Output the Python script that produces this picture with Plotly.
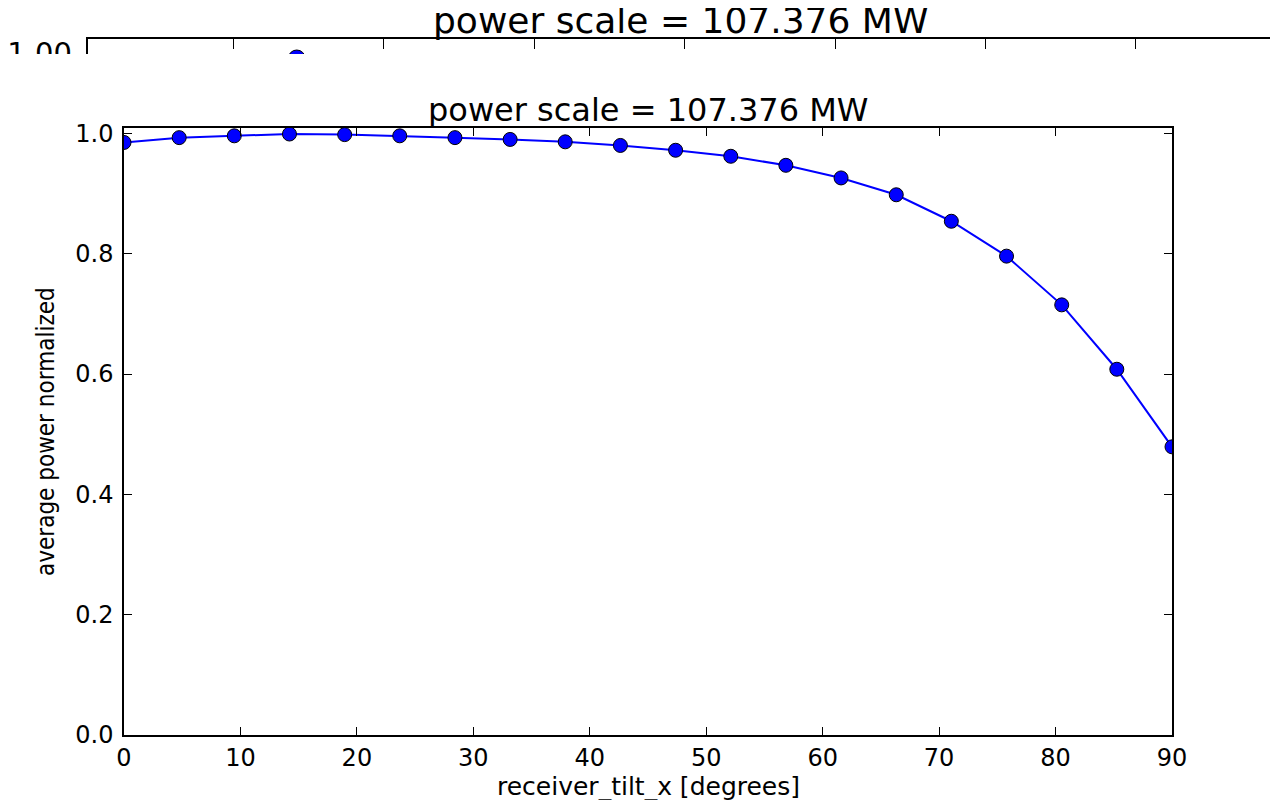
import plotly.graph_objects as go

# ---- data ----
tilt_deg = [0.0, 4.74, 9.47, 14.21, 18.95, 23.68, 28.42, 33.16, 37.89, 42.63,
            47.37, 52.11, 56.84, 61.58, 66.32, 71.05, 75.79, 80.53, 85.26, 90.0]
power_norm = [0.985, 0.993, 0.996, 0.999, 0.998, 0.996, 0.993, 0.990, 0.986, 0.980,
              0.972, 0.962, 0.947, 0.926, 0.898, 0.854, 0.796, 0.715, 0.608, 0.479]
x_tick_vals = [0, 10, 20, 30, 40, 50, 60, 70, 80, 90]
y_tick_vals = [0.0, 0.2, 0.4, 0.6, 0.8, 1.0]
y_tick_text = ["0.0", "0.2", "0.4", "0.6", "0.8", "1.0"]
strip_x_ticks = [10, 20, 30, 40, 50, 60, 70]
strip_y_ticks = [1.0]
strip_y_text = ["1.00"]
title_text = "power scale = 107.376 MW"
x_label = "receiver_tilt_x [degrees]"
y_label = "average power normalized"

# page body has an 8px margin: work in window pixels and convert
OFF = 8
W, H = 1270, 792
def px(x):
    return (x - OFF) / W
def py(y):
    return (H - (y - OFF)) / H

FONT = "DejaVu Sans"
BLUE = "#0000ff"

fig = go.Figure()

# main chart
fig.add_trace(go.Scatter(
    x=tilt_deg, y=power_norm, mode="lines+markers",
    line=dict(color=BLUE, width=2),
    marker=dict(color=BLUE, size=14, line=dict(color="black", width=1)),
    xaxis="x", yaxis="y", showlegend=False, hoverinfo="skip"))

# cropped strip of the upper (repeated) chart
fig.add_trace(go.Scatter(
    x=tilt_deg, y=power_norm, mode="lines+markers",
    line=dict(color=BLUE, width=2),
    marker=dict(color=BLUE, size=17, line=dict(color="black", width=1)),
    xaxis="x2", yaxis="y2", showlegend=False, hoverinfo="skip"))

axis_common = dict(showline=True, linecolor="black", linewidth=1.5, mirror="ticks",
                   ticks="inside", ticklen=8, tickwidth=1, tickcolor="black",
                   showgrid=False, zeroline=False, automargin=False,
                   tickfont=dict(family=FONT, size=24, color="black"))

fig.update_layout(
    template="none",
    width=W, height=H,
    margin=dict(l=0, r=0, t=0, b=0, pad=0, autoexpand=False),
    paper_bgcolor="white", plot_bgcolor="white",
    xaxis=dict(domain=[px(124), px(1172)], range=[0, 90], tickvals=x_tick_vals,
               anchor="y", ticklabelstandoff=0, **axis_common),
    yaxis=dict(domain=[py(735), py(128)], range=[0, 1.009], tickvals=y_tick_vals,
               ticktext=y_tick_text, anchor="x", ticklabelstandoff=4, **axis_common),
    xaxis2=dict(domain=[px(87.5), 1.0], range=[0.299, 79.45], side="top", anchor="y2",
                showline=True, linecolor="black", linewidth=1.5, mirror=False,
                ticks="inside", ticklen=10, tickwidth=1, tickcolor="black",
                tickvals=strip_x_ticks, showticklabels=False, automargin=False,
                showgrid=False, zeroline=False),
    yaxis2=dict(domain=[py(54), py(39)], range=[0.999818, 1.002545], anchor="x2",
                showline=True, linecolor="black", linewidth=1.5, mirror=False,
                ticks="", tickvals=strip_y_ticks, ticktext=strip_y_text,
                ticklabelstandoff=8, automargin=False,
                tickfont=dict(family=FONT, size=29, color="black"),
                showgrid=False, zeroline=False),
    shapes=[dict(type="rect", xref="paper", yref="paper",
                 x0=0, x1=px(86), y0=py(80), y1=py(54),
                 fillcolor="white", line=dict(width=0), layer="above")],
    annotations=[
        dict(text=title_text, x=px(681), y=py(43), xref="paper", yref="paper",
             xanchor="center", yanchor="bottom", showarrow=False,
             font=dict(family=FONT, size=36, color="black")),
        dict(text=title_text, x=px(648), y=py(131), xref="paper", yref="paper",
             xanchor="center", yanchor="bottom", showarrow=False,
             font=dict(family=FONT, size=32, color="black")),
        dict(text=x_label, x=px(648), y=py(786), xref="paper", yref="paper",
             xanchor="center", yanchor="middle", showarrow=False,
             font=dict(family=FONT, size=25, color="black")),
        dict(text=y_label, x=px(46), y=py(432), xref="paper", yref="paper",
             xanchor="center", yanchor="middle", showarrow=False, textangle=-90,
             font=dict(family="DejaVu Sans Condensed, Liberation Sans Narrow, DejaVu Sans",
                       size=24, color="black")),
    ],
)

fig.write_html("out.html")
